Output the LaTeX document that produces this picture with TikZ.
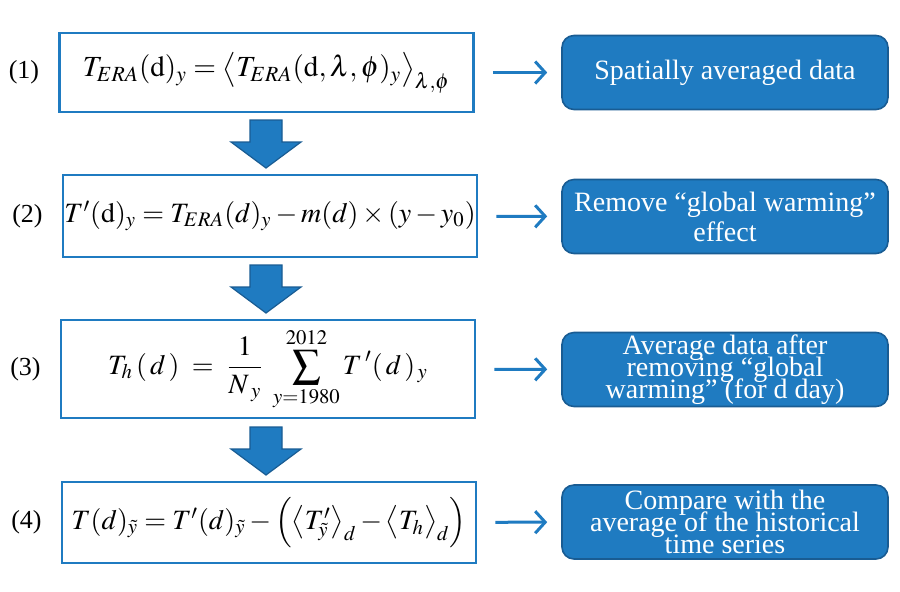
\documentclass[tikz,border=0pt]{standalone}
\usepackage{mathptmx}
\usepackage{fontspec}
\setmainfont{Liberation Serif}
\usetikzlibrary{positioning,arrows.meta}
\definecolor{boxblue}{HTML}{1F7BC1}
\definecolor{darkblue}{HTML}{195C93}
\tikzset{
  eqbox/.style={draw=boxblue, line width=1.3pt, minimum width=207pt, inner sep=0pt,
    font=\fontsize{14}{17}\selectfont},
  notebox/.style={draw=darkblue, fill=boxblue, line width=0.8pt, rounded corners=6pt,
    minimum width=163pt, minimum height=37pt, text=white, align=center, inner sep=1pt,
    font={\fontsize{14}{11}\selectfont\lineskiplimit=-20pt}},
  eqlabel/.style={left=6pt, font=\fontsize{13}{15}\selectfont},
  thinarrow/.style={draw=boxblue, line width=1.5pt, -{Straight Barb[length=5pt,width=11pt]},
    shorten <=9pt, shorten >=7pt}
}
\begin{document}
\begin{tikzpicture}[x=0.5pt, y=-0.5pt]
      \useasboundingbox (0,0) rectangle (900,591);
      % formulas
      \node[eqbox, minimum height=39.5pt, font=\fontsize{14.6}{17}\selectfont] (f1) at (266.5,72.5)
        {$T_{ERA}(\mathrm{d})_y = \left\langle T_{ERA}(\mathrm{d},\lambda,\phi)_y \right\rangle_{\lambda,\phi}$};
      \node[eqbox, minimum height=41pt] (f2) at (270,216)
        {$T'(\mathrm{d})_y = T_{ERA}(d)_y - m(d)\times(y-y_0)$};
      \node[eqbox, minimum height=49pt] (f3) at (268,369)
        {$\displaystyle T_h\,(\,d\,) \;=\; \frac{1}{N_{\;y}}\; \sum_{y=1980}^{2012} T\,'(\,d\,)_{\,y}$};
      \node[eqbox, minimum height=40.5pt] (f4) at (269,522.5)
        {$T(d)_{\tilde y} = T'(d)_{\tilde y} - \Bigl(\bigl\langle T'_{\tilde y}\bigr\rangle_d - \bigl\langle T_h\bigr\rangle_d\Bigr)$};
      \node[eqlabel] (l1) at (f1.west) {(1)};
      \node[eqlabel] (l2) at (f2.west) {(2)};
      \node[eqlabel] (l3) at (f3.west) {(3)};
      \node[eqlabel] (l4) at (f4.west) {(4)};
      % notes
      \node[notebox] (n1) at (725,72.5) {Spatially averaged data};
      \node[notebox, font={\fontsize{14}{15}\selectfont}] (n2) at (725,216.5)
        {Remove ``global warming''\\effect};
      \node[notebox] (n3) at (725,369.5)
        {Average data after\\removing ``global\\warming'' (for d day)};
      \node[notebox] (n4) at (725,522)
        {Compare with the\\average of the historical\\time series};
      \draw[thinarrow] (f1) -- (n1);
      \draw[thinarrow] (f2) -- (n2);
      \draw[thinarrow] (f3) -- (n3);
      \draw[thinarrow] (f4) -- (n4);
      % block arrows between steps
      \foreach \y in {120,265,427}
        \filldraw[fill=boxblue, draw=darkblue, line width=0.6pt]
          (250,\y) -- (282,\y) -- (282,\y+22) -- (301,\y+22) -- (266,\y+48)
          -- (231,\y+22) -- (250,\y+22) -- cycle;
\end{tikzpicture}
\end{document}
